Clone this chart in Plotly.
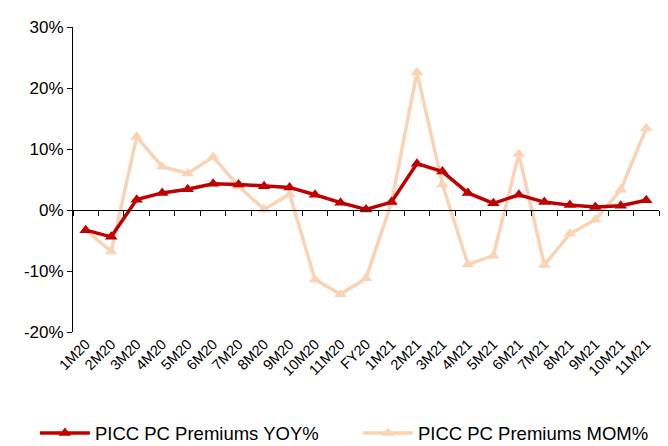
import plotly.graph_objects as go

categories = ["1M20","2M20","3M20","4M20","5M20","6M20","7M20","8M20","9M20","10M20","11M20","FY20",
              "1M21","2M21","3M21","4M21","5M21","6M21","7M21","8M21","9M21","10M21","11M21"]
yoy = [-3.3, -4.4, 1.7, 2.8, 3.4, 4.3, 4.2, 3.9, 3.7, 2.5, 1.2, 0.1,
       1.3, 7.6, 6.3, 2.8, 1.1, 2.5, 1.3, 0.8, 0.5, 0.7, 1.6]
mom = [-3.3, -6.8, 12.0, 7.1, 6.0, 8.7, 3.9, 0.1, 2.6, -11.4, -13.8, -11.2,
       1.2, 22.6, 4.2, -8.9, -7.5, 9.2, -9.0, -3.9, -1.6, 3.3, 13.4]
y_ticks = [-20, -10, 0, 10, 20, 30]
y_tick_labels = ["-20%", "-10%", "0%", "10%", "20%", "30%"]

RED = "#C00000"
PEACH = "#FAD3B4"
FONT = "Liberation Sans, Arial, sans-serif"

fig = go.Figure()
fig.add_trace(go.Scatter(x=categories, y=mom, name="PICC PC Premiums MOM%", mode="lines+markers",
                         line=dict(color=PEACH, width=3.5),
                         marker=dict(symbol="triangle-up", size=11, color=PEACH)))
fig.add_trace(go.Scatter(x=categories, y=yoy, name="PICC PC Premiums YOY%", mode="lines+markers",
                         line=dict(color=RED, width=3.5),
                         marker=dict(symbol="triangle-up", size=11, color=RED)))
# invisible trace hosting the zero-line axis with boundary tick marks
fig.add_trace(go.Scatter(x=categories, y=[0]*len(categories), xaxis="x2", mode="lines",
                         line=dict(width=0), showlegend=False, hoverinfo="skip"))

ymin, ymax = -20, 30
zero_pos = (0 - ymin) / (ymax - ymin)

fig.update_layout(
    width=660, height=438,
    margin=dict(l=65, r=9, t=19, b=114, autoexpand=False),
    paper_bgcolor="white", plot_bgcolor="white",
    font=dict(family=FONT, color="black", size=16),
    xaxis=dict(type="category", categoryorder="array", categoryarray=categories,
               tickangle=-45, tickfont=dict(size=14.5), showline=False, ticks="",
               showgrid=False, zeroline=False, range=[-0.5, len(categories) - 0.5],
               automargin=False),
    xaxis2=dict(type="category", categoryorder="array", categoryarray=categories,
                overlaying="x", anchor="free", position=zero_pos, matches="x",
                showticklabels=False, ticks="outside", tickson="boundaries", ticklen=5,
                tickcolor="black", showline=True, linecolor="black", linewidth=1,
                showgrid=False, zeroline=False, automargin=False),
    yaxis=dict(range=[ymin, ymax], tickvals=y_ticks, ticktext=y_tick_labels,
               showline=True, linecolor="black", linewidth=1, ticks="outside", ticklen=5,
               tickcolor="black", showgrid=False, zeroline=False, tickfont=dict(size=17),
               automargin=False),
    legend=dict(orientation="h", x=-0.065, xanchor="left", y=-0.27, yanchor="top",
                traceorder="reversed", font=dict(size=18.5), entrywidth=258, itemwidth=50,
                bgcolor="rgba(0,0,0,0)"),
    showlegend=True,
)

fig.write_html("out.html")
